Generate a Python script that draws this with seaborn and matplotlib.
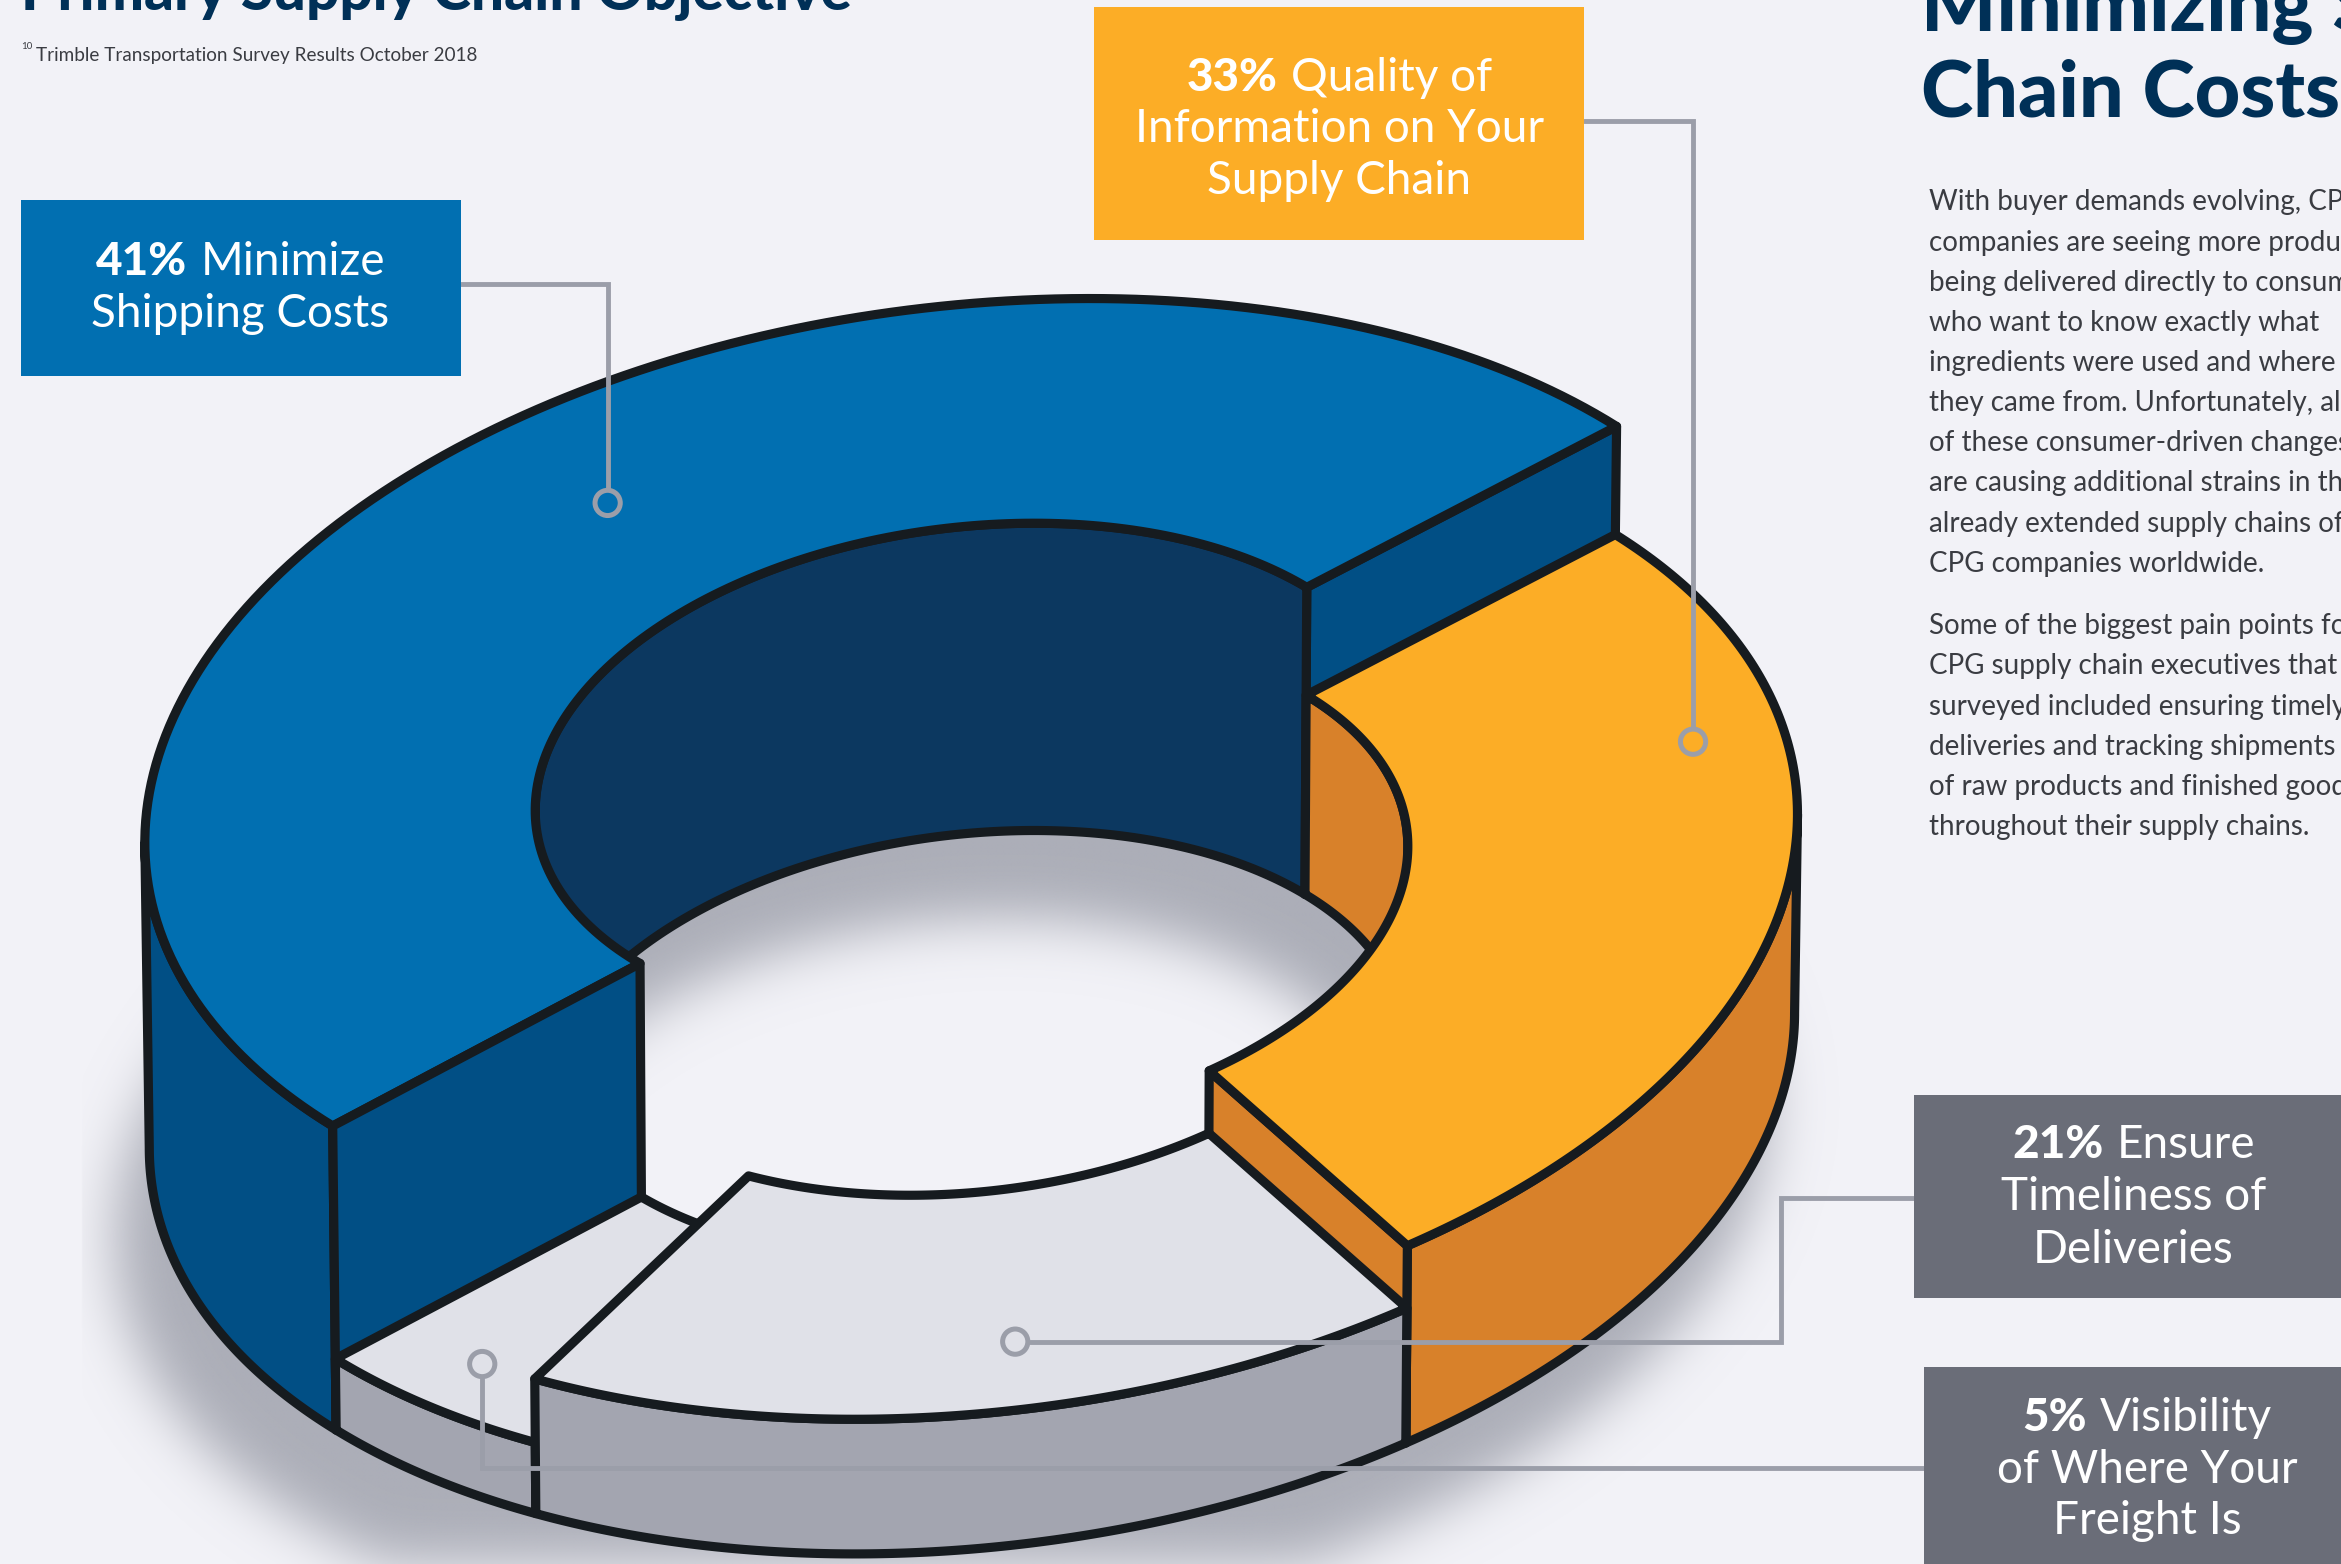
import numpy as np
import pandas as pd
import matplotlib
matplotlib.use("Agg")
import matplotlib.pyplot as plt
import seaborn as sns

# Survey results
categories = ["Minimize Shipping Costs", "Quality of Information on Your Supply Chain",
              "Ensure Timeliness of Deliveries", "Visibility of Where Your Freight Is"]
shares = [41, 33, 21, 5]
# Extruded height of each slice, in drawing units
slice_heights = [205, 133, 91, 48]

body_first = ["With buyer demands evolving, CPG", "companies are seeing more products",
              "being delivered directly to consumers", "who want to know exactly what",
              "ingredients were used and where", "they came from. Unfortunately, all",
              "of these consumer-driven changes", "are causing additional strains in the",
              "already extended supply chains of", "CPG companies worldwide."]
body_second = ["Some of the biggest pain points for", "CPG supply chain executives that",
               "surveyed included ensuring timely", "deliveries and tracking shipments",
               "of raw products and finished goods", "throughout their supply chains."]

BG = "#f2f2f7"
INK = "#161b1f"
NAVY = "#003057"
TEXT = "#3a3c42"
LEADER = "#9b9ea9"
BLUE_TOP, BLUE_WALL, BLUE_INNER = "#016fb1", "#014f85", "#0c3860"
ORANGE_TOP, ORANGE_WALL = "#fcad26", "#d8812a"
GREY_TOP, GREY_WALL = "#e0e1e8", "#a3a5b0"
SLATE = "#6a6d78"
SHADOW = np.array([172, 174, 184]) / 255

sns.set_theme(style="white", rc={"figure.facecolor": BG, "savefig.facecolor": BG,
                                 "axes.facecolor": BG})
plt.rcParams["font.family"] = ["Lato", "DejaVu Sans"]

fig = plt.figure(figsize=(23.41, 15.64), dpi=100)
ax = fig.add_axes([0, 0, 1, 1])
W, H = 1568, 1048
ax.set_xlim(0, W)
ax.set_ylim(H, 0)
ax.set_axis_off()

# Ring projection: outer rim at the tallest slice's level
CX, CY = 651.0, 519.0
RX, SKEW, RY = 554.0, -45.5, 315.7
HOLE = 0.528
HOLE_TWIST = 0.02
TAPER = 0.0054
GROUND = max(slice_heights)
# Perspective warp of the ring's angle around the view axis
VIEW_K = 0.745
VIEW_T = np.radians(403.2)
VIEW_START = -246.4


def view_angle(cum):
    theta = np.radians(VIEW_START + 3.6 * cum)
    return VIEW_T + 2 * np.arctan2(VIEW_K * np.sin(theta / 2), np.cos(theta / 2))


def rim(t, r, drop):
    t = np.asarray(t)
    if r < 1:
        t = t - HOLE_TWIST
    scale = r * (1 - TAPER * drop / GROUND)
    return CX + scale * RX * np.cos(t), CY + scale * (SKEW * np.cos(t) + RY * np.sin(t)) + drop


def arc(a, b, r, drop, n=160):
    return rim(np.linspace(a, b, n), r, drop)


def face(xs, ys, color, z):
    ax.fill(np.concatenate(xs), np.concatenate(ys), facecolor=color, edgecolor=INK,
            linewidth=6.6, joinstyle="round", zorder=z)


def band(a, b, r, top, bottom, color, z):
    x0, y0 = arc(a, b, r, top)
    x1, y1 = arc(b, a, r, bottom)
    face([x0, x1], [y0, y1], color, z)


def sector(a, b, drop, color, z):
    x0, y0 = arc(a, b, 1.0, drop)
    x1, y1 = arc(b, a, HOLE, drop)
    face([x0, x1], [y0, y1], color, z)


def radial_cap(t, top, bottom, color, z):
    xit, yit = rim(t, HOLE, top)
    xot, yot = rim(t, 1.0, top)
    xob, yob = rim(t, 1.0, bottom)
    xib, yib = rim(t, HOLE, bottom)
    face([[xit, xot, xob, xib]], [[yit, yot, yob, yib]], color, z)


cum = np.concatenate([[0], np.cumsum(shares)])
angles = [view_angle(c) for c in cum]
drops = [GROUND - h for h in slice_heights]
a0, a1, a2, a3, a4 = angles
d_blue, d_orange, d_g21, d_g5 = drops
FULL = 2 * np.pi

# Soft cast shadow of the ring on the page
yy, xx = np.mgrid[0:H, 0:W] + 0.5
SHIFT_X, SHIFT_Y, SIGMA = -20.0, 60.0, 18.0


def inside(r):
    c = (xx - (CX + SHIFT_X)) / (r * RX)
    s = (yy - (CY + GROUND + SHIFT_Y) - r * SKEW * c) / (r * RY)
    return c ** 2 + s ** 2 <= 1


mask = (inside(1.0) & ~inside(HOLE)).astype(float)
fx = np.fft.rfftfreq(W + 200)
fy = np.fft.fftfreq(H + 200)
gauss = np.exp(-2 * (np.pi * SIGMA) ** 2 * (fx[None, :] ** 2 + fy[:, None] ** 2))
soft = np.fft.irfft2(np.fft.rfft2(mask, s=(H + 200, W + 200)) * gauss, s=(H + 200, W + 200))[:H, :W]
soft = np.clip(soft, 0, 1)
soft[:, :55] = 0
rgba = np.zeros((H, W, 4))
rgba[..., :3] = SHADOW
rgba[..., 3] = soft
ax.imshow(rgba, extent=(0, W, H, 0), zorder=1, aspect="auto", interpolation="bilinear")
ax.set_xlim(0, W)
ax.set_ylim(H, 0)

# Ring faces, back to front
radial_cap(a1, d_blue, GROUND, BLUE_WALL, 2)
band(np.pi + HOLE_TWIST, a1, HOLE, d_blue, GROUND, BLUE_INNER, 3)
band(a1, FULL + HOLE_TWIST, HOLE, d_orange, GROUND, ORANGE_WALL, 4)
band(a0, np.pi, 1.0, d_blue, GROUND, BLUE_WALL, 5)
sector(a0, a1, d_blue, BLUE_TOP, 6)
radial_cap(a0, d_blue, GROUND, BLUE_WALL, 7)
band(FULL, a2, 1.0, d_orange, GROUND, ORANGE_WALL, 8)
radial_cap(a2, d_orange, GROUND, ORANGE_WALL, 9)
sector(a1, a2, d_orange, ORANGE_TOP, 10)
band(a3, a4, 1.0, d_g5, GROUND, GREY_WALL, 11)
sector(a3, a4, d_g5, GREY_TOP, 12)
band(a2, a3, 1.0, d_g21, GROUND, GREY_WALL, 13)
sector(a2, a3, d_g21, GREY_TOP, 14)


# Callout boxes and their text
def box(x0, y0, x1, y1, color):
    ax.fill([x0, x1, x1, x0], [y0, y0, y1, y1], color=color, linewidth=0, zorder=20)


renderer = fig.canvas.get_renderer()
inv = ax.transData.inverted()


def run_width(txt):
    e = txt.get_window_extent(renderer)
    return abs(inv.transform((e.x1, 0))[0] - inv.transform((e.x0, 0))[0])


def callout_line(cx, baseline, bold, rest, size=33):
    parts = []
    if bold:
        parts.append(ax.text(0, baseline, bold, fontsize=size, fontweight="black", color="white",
                             va="baseline", ha="left", zorder=21))
    if rest:
        parts.append(ax.text(0, baseline, rest, fontsize=size, color="white",
                             va="baseline", ha="left", zorder=21))
    widths = [run_width(p) for p in parts]
    gap = 9 if len(parts) == 2 else 0
    x = cx - (sum(widths) + gap) / 2
    for p, w in zip(parts, widths):
        p.set_x(x)
        x += w + gap


box(14, 134, 309, 252, BLUE_TOP)
box(733, 5, 1061, 161, ORANGE_TOP)
box(1282, 734, 1568, 870, SLATE)
box(1289, 916, 1568, 1048, SLATE)

callouts = [
    (161, [(184, f"{shares[0]}%", "Minimize"), (219, "", "Shipping Costs")]),
    (897, [(61, f"{shares[1]}%", "Quality of"), (95, "", "Information on Your"), (130, "", "Supply Chain")]),
    (1429, [(776, f"{shares[2]}%", "Ensure"), (811, "", "Timeliness of"), (846, "", "Deliveries")]),
    (1438, [(959, f"{shares[3]}%", "Visibility"), (994, "", "of Where Your"), (1028, "", "Freight Is")]),
]
for cx, rows in callouts:
    for baseline, bold, rest in rows:
        callout_line(cx, baseline, bold, rest)

# Leader lines ending at open anchor rings
R_DOT = 10
leaders = [
    ([309, 407, 407], [190, 190, 337 - R_DOT]),
    ([1061, 1134, 1134], [81, 81, 497 - R_DOT]),
    ([1282, 1193, 1193, 680 + R_DOT], [803, 803, 899, 899]),
    ([1289, 323, 323], [984, 984, 914 + R_DOT]),
]
for lx, ly in leaders:
    sns.lineplot(x=lx, y=ly, sort=False, estimator=None, color=LEADER, linewidth=3.5,
                 solid_joinstyle="miter", ax=ax, zorder=18)
anchors = pd.DataFrame({"x": [407, 1134, 680, 323], "y": [337, 497, 899, 914]})
sns.scatterplot(data=anchors, x="x", y="y", s=330, facecolor="none", edgecolor=LEADER,
                linewidth=3.6, ax=ax, zorder=19, legend=False)
ax.set_xlim(0, W)
ax.set_ylim(H, 0)
ax.set_axis_off()

# Headings, footnote and body copy
ax.text(14, 7, "Primary Supply Chain Objective", fontsize=42, fontweight="black", color=NAVY,
        va="baseline", ha="left", zorder=30)
ax.text(14, 33, "10", fontsize=7, color=TEXT, va="baseline", ha="left", zorder=30)
ax.text(24, 41, "Trimble Transportation Survey Results October 2018", fontsize=13.6, color=TEXT,
        va="baseline", ha="left", zorder=30)
ax.text(1287, 21, "Minimizing Supply", fontsize=57, fontweight="black", color=NAVY,
        va="baseline", ha="left", zorder=30)
ax.text(1287, 78, "Chain Costs", fontsize=57, fontweight="black", color=NAVY,
        va="baseline", ha="left", zorder=30)
for start, pitch, lines in ((141, 26.9, body_first), (425, 26.9, body_second)):
    for i, line in enumerate(lines):
        ax.text(1292, start + i * pitch, line, fontsize=20, color=TEXT, va="baseline", ha="left",
                zorder=30)

fig.savefig("out.png", dpi=100)
